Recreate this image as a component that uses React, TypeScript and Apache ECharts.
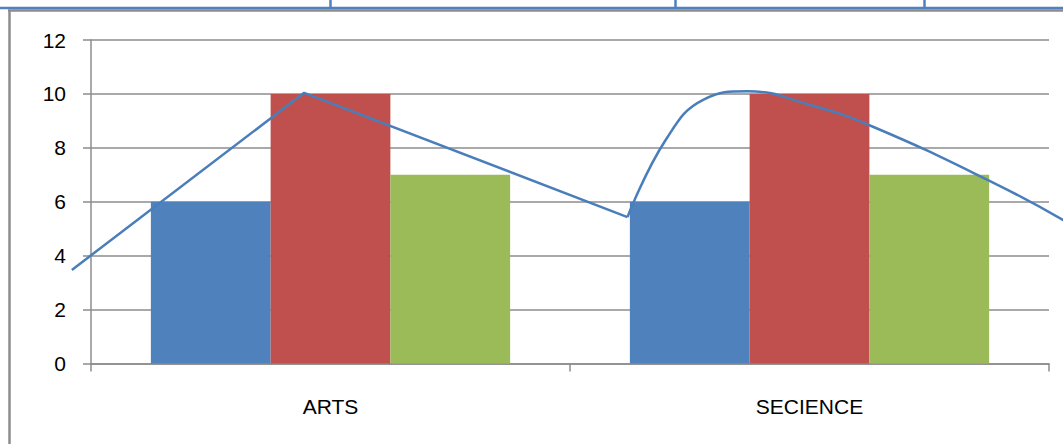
import React, { useEffect, useRef } from "react";
import * as echarts from "echarts";

const categories = ["ARTS", "SECIENCE"];
const series1 = [6, 6];
const series2 = [10, 10];
const series3 = [7, 7];
const yTicks = [0, 2, 4, 6, 8, 10, 12];
// free-drawn line, in (category position, value) units
const lineStraight = [
  [-0.04, 3.47],
  [0.445, 10.04],
  [1.12, 5.43],
];
const lineCurve = [
  [1.12, 5.43],
  [1.2, 8.3],
  [1.28, 9.8],
  [1.37, 10.1],
  [1.5, 9.6],
  [1.63, 8.8],
  [1.88, 6.74],
  [2.03, 5.32],
];

const AXIS_GRAY = "#8c8c8c";
const FONT = "'Liberation Sans', Arial, sans-serif";
const PLOT_L = 91;
const PLOT_R = 1049;
const W = 1063;
const catPx = (PLOT_R - PLOT_L) / 2;

export default function App() {
  const ref = useRef<HTMLDivElement>(null);
  useEffect(() => {
    if (!ref.current) return;
    const chart = echarts.init(ref.current, undefined, { renderer: "svg" });
    const lineLeft = 71;
    chart.setOption({
      animation: false,
      backgroundColor: "#ffffff",
      grid: [
        { left: PLOT_L, right: W - PLOT_R, top: 40, bottom: 80.5 },
        { left: lineLeft, right: 0, top: 40, bottom: 80.5 },
      ],
      xAxis: [
        {
          type: "category",
          gridIndex: 0,
          data: categories,
          axisLine: { show: true, lineStyle: { color: AXIS_GRAY, width: 1.5 } },
          axisTick: { show: true, length: 8, lineStyle: { color: AXIS_GRAY, width: 1.5 } },
          axisLabel: { color: "#000", fontSize: 21, fontFamily: FONT, margin: 32 },
          splitLine: { show: false },
        },
        {
          type: "value",
          gridIndex: 1,
          min: (lineLeft - PLOT_L) / catPx,
          max: (W - PLOT_L) / catPx,
          show: false,
        },
      ],
      yAxis: [
        {
          type: "value",
          gridIndex: 0,
          min: yTicks[0],
          max: yTicks[yTicks.length - 1],
          interval: 2,
          axisLine: { show: true, lineStyle: { color: AXIS_GRAY, width: 1.5 } },
          axisTick: { show: true, length: 8, lineStyle: { color: AXIS_GRAY, width: 1.5 } },
          axisLabel: { color: "#000", fontSize: 21, fontFamily: FONT, margin: 25 },
          splitLine: { show: true, lineStyle: { color: AXIS_GRAY, width: 1.5 } },
        },
        {
          type: "value",
          gridIndex: 1,
          min: yTicks[0],
          max: yTicks[yTicks.length - 1],
          show: false,
        },
      ],
      series: [
        { type: "bar", data: series1, itemStyle: { color: "#4F81BD" }, barGap: "0%", barCategoryGap: "25%" },
        { type: "bar", data: series2, itemStyle: { color: "#C0504D" }, barGap: "0%", barCategoryGap: "25%" },
        { type: "bar", data: series3, itemStyle: { color: "#9BBB59" }, barGap: "0%", barCategoryGap: "25%" },
        {
          type: "line",
          xAxisIndex: 1,
          yAxisIndex: 1,
          data: lineStraight,
          showSymbol: false,
          clip: false,
          lineStyle: { color: "#4A7EBB", width: 2.5 },
        },
        {
          type: "line",
          xAxisIndex: 1,
          yAxisIndex: 1,
          data: lineCurve,
          smooth: 0.45,
          showSymbol: false,
          clip: false,
          lineStyle: { color: "#4A7EBB", width: 2.5 },
        },
      ],
      graphic: [
        { type: "line", shape: { x1: 8, y1: 10.5, x2: 1063, y2: 10.5 }, style: { stroke: "#8c8c8c", lineWidth: 2.5 } },
        { type: "line", shape: { x1: 9.5, y1: 10, x2: 9.5, y2: 444 }, style: { stroke: "#8c8c8c", lineWidth: 2.5 } },
        { type: "line", shape: { x1: 0, y1: 8, x2: 1063, y2: 8 }, style: { stroke: "#4F81BD", lineWidth: 2.5 } },
        { type: "line", shape: { x1: 330.5, y1: 0, x2: 330.5, y2: 8 }, style: { stroke: "#4F81BD", lineWidth: 2.5 } },
        { type: "line", shape: { x1: 675.5, y1: 0, x2: 675.5, y2: 8 }, style: { stroke: "#4F81BD", lineWidth: 2.5 } },
        { type: "line", shape: { x1: 924.5, y1: 0, x2: 924.5, y2: 8 }, style: { stroke: "#4F81BD", lineWidth: 2.5 } },
      ],
    });
    return () => chart.dispose();
  }, []);
  return (
    <div
      ref={ref}
      style={{ position: "fixed", left: 0, top: 0, width: 1063, height: 444, background: "#fff" }}
    />
  );
}
